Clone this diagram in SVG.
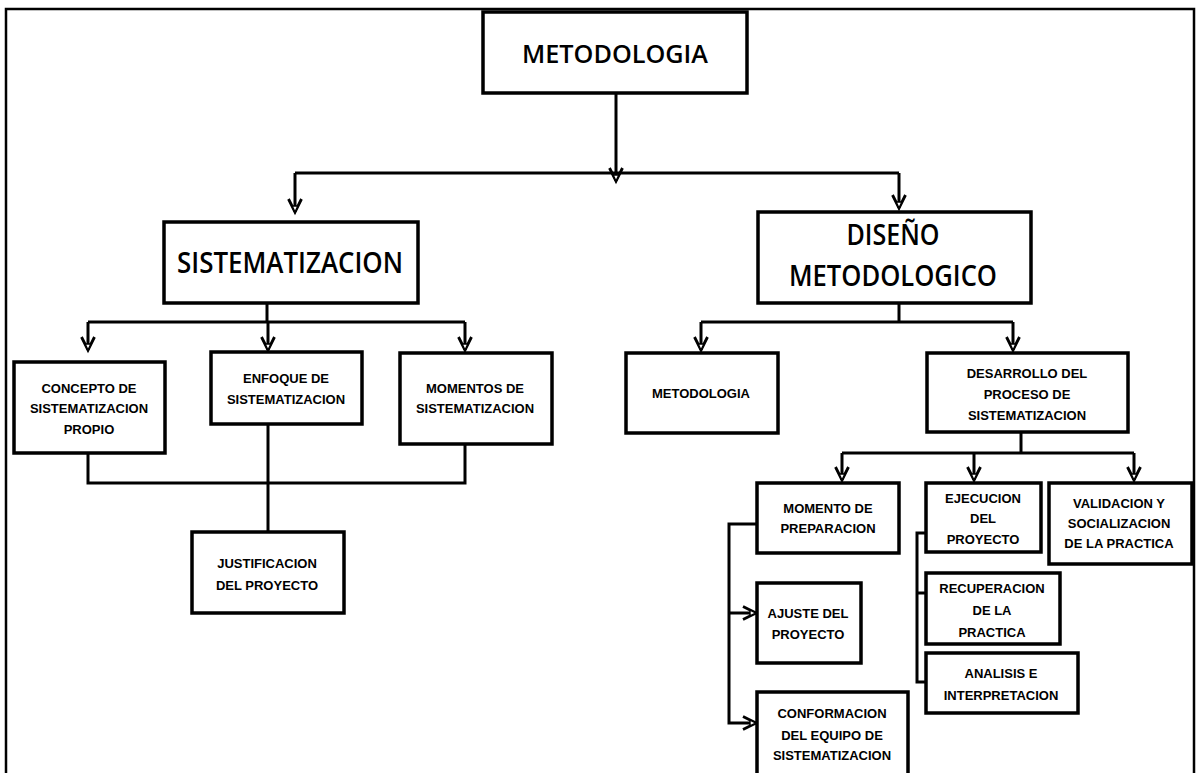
<svg xmlns="http://www.w3.org/2000/svg" width="1198" height="773" viewBox="0 0 1198 773">
<style>
.box{fill:#fff;stroke:#000;stroke-width:3.5}
.ln{fill:none;stroke:#000;stroke-width:3}
.t{font-family:"Liberation Sans",Arial,sans-serif;font-size:13px;font-weight:bold;fill:#000;text-anchor:middle}
.big{font-family:"Open Sans","Liberation Sans",sans-serif;font-weight:600;fill:#000;text-anchor:middle}
</style>
<defs>
<marker id="arr" markerUnits="userSpaceOnUse" markerWidth="20" markerHeight="20" viewBox="-15 -10 20 20" refX="0" refY="0" orient="auto" overflow="visible">
<path d="M-13,-6.5 L0,0 L-13,6.5" fill="none" stroke="#000" stroke-width="2.8"/>
<path d="M-6,-2.8 L0,0 L-6,2.8 z" fill="#fff" stroke="#000" stroke-width="1.4"/>
</marker>
</defs>
<rect width="1198" height="773" fill="#fff"/>
<path d="M6,773 V9 H1194 V773" fill="none" stroke="#000" stroke-width="2.5"/>

<g id="connectors">
<path class="ln" d="M616,93 V181" marker-end="url(#arr)"/>
<path class="ln" d="M295,173 H899"/>
<path class="ln" d="M295,173 V212" marker-end="url(#arr)"/>
<path class="ln" d="M899,173 V208" marker-end="url(#arr)"/>

<path class="ln" d="M267,303 V322"/>
<path class="ln" d="M88,322 H465"/>
<path class="ln" d="M88,322 V350" marker-end="url(#arr)"/>
<path class="ln" d="M268,322 V350" marker-end="url(#arr)"/>
<path class="ln" d="M465,322 V350" marker-end="url(#arr)"/>
<path class="ln" d="M88,453 V483 H465 V444"/>
<path class="ln" d="M268,424 V532"/>

<path class="ln" d="M899,303 V322"/>
<path class="ln" d="M701,322 H1013"/>
<path class="ln" d="M701,322 V350" marker-end="url(#arr)"/>
<path class="ln" d="M1013,322 V350" marker-end="url(#arr)"/>

<path class="ln" d="M1021,432 V453"/>
<path class="ln" d="M842,453 H1134"/>
<path class="ln" d="M842,453 V480" marker-end="url(#arr)"/>
<path class="ln" d="M974,453 V480" marker-end="url(#arr)"/>
<path class="ln" d="M1134,453 V480" marker-end="url(#arr)"/>

<path class="ln" d="M757,524 H729 V723 H756" marker-end="url(#arr)"/>
<path class="ln" d="M729,613 H756" marker-end="url(#arr)"/>

<path class="ln" d="M926,533 H917 V682 H926"/>
<path class="ln" d="M917,593 H926"/>
</g>

<g id="n-metodologia">
<rect class="box" x="483" y="12" width="264" height="81"/>
<text class="big" x="615" y="63" font-size="25" textLength="186" lengthAdjust="spacingAndGlyphs">METODOLOGIA</text>
</g>
<g id="n-sistematizacion">
<rect class="box" x="164" y="222" width="254" height="81"/>
<text class="big" x="290" y="273" font-size="28" textLength="226" lengthAdjust="spacingAndGlyphs">SISTEMATIZACION</text>
</g>
<g id="n-diseno">
<rect class="box" x="758" y="212" width="273" height="91"/>
<text class="big" x="893" y="245" font-size="28" textLength="93" lengthAdjust="spacingAndGlyphs">DISEÑO</text>
<text class="big" x="893" y="286" font-size="28" textLength="208" lengthAdjust="spacingAndGlyphs">METODOLOGICO</text>
</g>

<g id="n-concepto">
<rect class="box" x="14" y="362" width="151" height="91"/>
<text class="t" x="89" y="393">CONCEPTO DE</text>
<text class="t" x="89" y="413">SISTEMATIZACION</text>
<text class="t" x="89" y="434">PROPIO</text>
</g>
<g id="n-enfoque">
<rect class="box" x="211" y="352" width="151" height="72"/>
<text class="t" x="286" y="383">ENFOQUE DE</text>
<text class="t" x="286" y="404">SISTEMATIZACION</text>
</g>
<g id="n-momentos">
<rect class="box" x="400" y="353" width="152" height="91"/>
<text class="t" x="475" y="393">MOMENTOS DE</text>
<text class="t" x="475" y="413">SISTEMATIZACION</text>
</g>
<g id="n-justificacion">
<rect class="box" x="192" y="532" width="152" height="81"/>
<text class="t" x="267" y="568">JUSTIFICACION</text>
<text class="t" x="267" y="590">DEL PROYECTO</text>
</g>

<g id="n-metodologia2">
<rect class="box" x="626" y="353" width="152" height="80"/>
<text class="t" x="701" y="398">METODOLOGIA</text>
</g>
<g id="n-desarrollo">
<rect class="box" x="927" y="353" width="201" height="79"/>
<text class="t" x="1027" y="378">DESARROLLO DEL</text>
<text class="t" x="1027" y="399">PROCESO DE</text>
<text class="t" x="1027" y="420">SISTEMATIZACION</text>
</g>

<g id="n-momento-preparacion">
<rect class="box" x="757" y="483" width="142" height="70"/>
<text class="t" x="828" y="513">MOMENTO DE</text>
<text class="t" x="828" y="533">PREPARACION</text>
</g>
<g id="n-ejecucion">
<rect class="box" x="926" y="483" width="115" height="69"/>
<text class="t" x="983" y="503">EJECUCION</text>
<text class="t" x="983" y="523">DEL</text>
<text class="t" x="983" y="544">PROYECTO</text>
</g>
<g id="n-validacion">
<rect class="box" x="1049" y="483" width="143" height="81"/>
<text class="t" x="1119" y="508">VALIDACION Y</text>
<text class="t" x="1119" y="528">SOCIALIZACION</text>
<text class="t" x="1119" y="548">DE LA PRACTICA</text>
</g>
<g id="n-ajuste">
<rect class="box" x="757" y="583" width="104" height="80"/>
<text class="t" x="808" y="618">AJUSTE DEL</text>
<text class="t" x="808" y="639">PROYECTO</text>
</g>
<g id="n-conformacion">
<rect class="box" x="757" y="692" width="151" height="90"/>
<text class="t" x="832" y="718">CONFORMACION</text>
<text class="t" x="832" y="740">DEL EQUIPO DE</text>
<text class="t" x="832" y="760">SISTEMATIZACION</text>
</g>
<g id="n-recuperacion">
<rect class="box" x="926" y="573" width="134" height="71"/>
<text class="t" x="992" y="593">RECUPERACION</text>
<text class="t" x="992" y="615">DE LA</text>
<text class="t" x="992" y="637">PRACTICA</text>
</g>
<g id="n-analisis">
<rect class="box" x="926" y="653" width="152" height="60"/>
<text class="t" x="1001" y="678">ANALISIS E</text>
<text class="t" x="1001" y="700">INTERPRETACION</text>
</g>
</svg>
